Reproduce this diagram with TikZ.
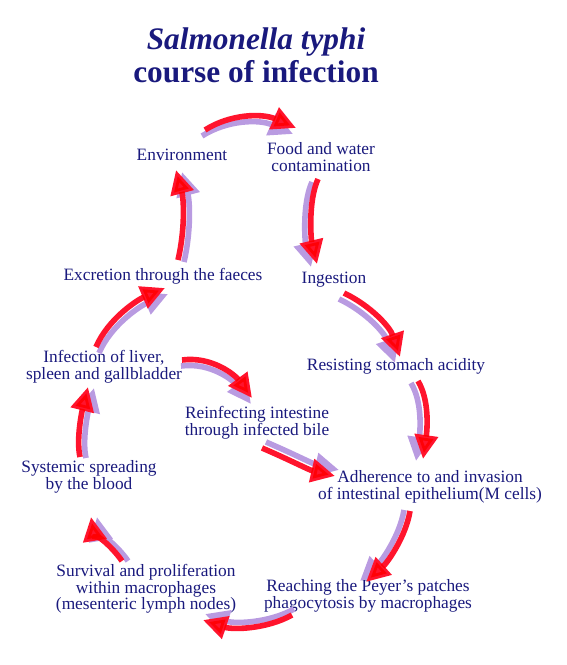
\documentclass[tikz,border=0pt]{standalone}
\usepackage{fontspec}
\setmainfont{Liberation Serif}
\usetikzlibrary{arrows.meta,calc}
\definecolor{inkblue}{RGB}{25,25,125}
\definecolor{ribbonred}{RGB}{255,20,45}
\definecolor{ribbonlilac}{RGB}{185,155,225}
% one ribbon arrow: #1 = offset of the lilac under-side, #2 = path
\newcommand{\ribbon}[2]{%
  \draw[lilacflow,transform canvas={shift={(#1)}}] #2;
  \begin{scope}[blend group=multiply]
    \draw[redflow] #2;
  \end{scope}}

\begin{document}
\begin{tikzpicture}[x=0.75pt,y=-0.75pt,
    lbl/.style={text=inkblue,font=\fontsize{13}{12.5}\selectfont,align=center,inner sep=0pt},
    redflow/.style={draw=ribbonred,line width=4.2pt,-{Triangle[width=17pt,length=18pt]}},
    lilacflow/.style={draw=ribbonlilac,line width=4.2pt,-{Triangle[width=17pt,length=18pt]}}]
  \useasboundingbox (0,0) rectangle (567,665);

  \node[text=inkblue,align=center,inner sep=0pt,font=\fontsize{23.5}{25}\selectfont\bfseries] (title) at (256,55)
    {\textit{Salmonella typhi}\\course of infection};

  \node[lbl] (env) at (182,155) {Environment};
  \node[lbl] (food) at (321,157) {Food and water\\contamination};
  \node[lbl] (ingest) at (334,280) {Ingestion};
  \node[lbl] (resist) at (396,366) {Resisting stomach acidity};
  \node[lbl] (adher) at (430,487) {Adherence to and invasion\\of intestinal epithelium(M cells)};
  \node[lbl] (reach) at (368,596) {Reaching the Peyer's patches\\phagocytosis by macrophages};
  \node[lbl] (surv) at (146,589) {Survival and proliferation\\within macrophages\\(mesenteric lymph nodes)};
  \node[lbl] (syst) at (89,477) {Systemic spreading\\by the blood};
  \node[lbl] (liver) at (104,367) {Infection of liver,\\spleen and gallbladder};
  \node[lbl] (excr) at (163,276) {Excretion through the faeces};
  \node[lbl] (reinf) at (257,423) {Reinfecting intestine\\through infected bile};

  \ribbon{-3,6}{($(env)+(23,-25)$) .. controls +(25,-16) and +(-34,-15) .. ($(food)+(-25,-29)$)}
  \ribbon{-6,3}{($(food)+(-3,22)$) .. controls +(-10,22) and +(-6,-25) .. ($(ingest)+(-17,-16)$)}
  \ribbon{-5,6}{($(ingest)+(10,13)$) .. controls +(27,13) and +(-10,-30) .. ($(resist)+(4,-9)$)}
  \ribbon{-7,2}{($(resist)+(22,15)$) .. controls +(12,20) and +(4,-28) .. ($(adher)+(-7,-28)$)}
  \ribbon{-6,-1}{($(adher)+(-20,24)$) .. controls +(-4,25) and +(22,-20) .. ($(reach)+(-2,-14)$)}
  \ribbon{2,-6}{($(reach)+(-76,19)$) .. controls +(-25,14) and +(30,10) .. ($(surv)+(57,31)$)}
  \ribbon{6,0}{($(surv)+(-24,-28)$) .. controls +(-8,-12) and +(2,12) .. ($(syst)+(2,40)$)}
  \ribbon{6,1}{($(syst)+(-9,-20)$) .. controls +(-4,-18) and +(-6,24) .. ($(liver)+(-16,20)$)}
  \ribbon{3,6}{($(liver)+(-8,-20)$) .. controls +(12,-28) and +(-28,12) .. ($(excr)+(2,12)$)}
  \ribbon{6,2}{($(excr)+(15,-16)$) .. controls +(7,-30) and +(8,30) .. ($(env)+(-6,15)$)}
  \ribbon{-1,6}{($(liver)+(78,-7)$) .. controls +(30,-4) and +(-17,-23) .. ($(reinf)+(-5,-25)$)}
  \ribbon{4,-6}{($(reinf)+(5,25)$) .. controls +(28,12) and +(-26,-6) .. ($(adher)+(-95,-11)$)}
\end{tikzpicture}
\end{document}
